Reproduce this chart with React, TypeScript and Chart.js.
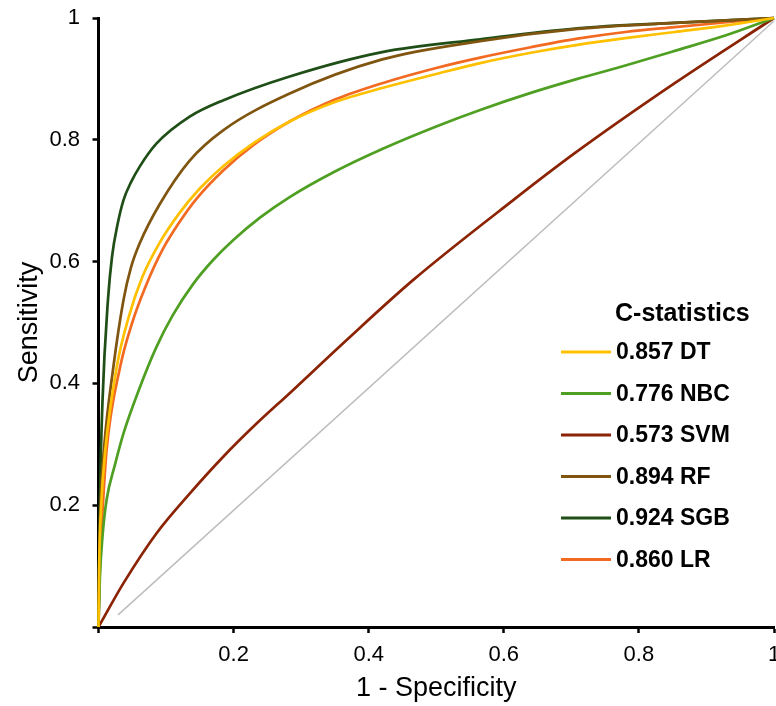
import React, { useEffect, useRef } from "react";
import { Chart, registerables } from "chart.js";

Chart.register(...registerables);

// ---- Data (1 - Specificity = FPR, Sensitivity = TPR) ----
const dtFpr = [0, 0.001, 0.004, 0.010, 0.027, 0.045, 0.065, 0.09, 0.12, 0.15, 0.185, 0.23, 0.283, 0.35, 0.42, 0.5, 0.565, 0.64, 0.709, 0.78, 0.853, 0.93, 1];
const dtTpr = [0, 0.1, 0.2, 0.29, 0.427, 0.51, 0.575, 0.63, 0.68, 0.72, 0.757, 0.795, 0.83, 0.862, 0.885, 0.908, 0.926, 0.943, 0.956, 0.967, 0.977, 0.988, 1];

const nbcFpr = [0, 0.002, 0.006, 0.012, 0.024, 0.037, 0.06, 0.085, 0.11, 0.14, 0.17, 0.2, 0.24, 0.283, 0.35, 0.42, 0.5, 0.565, 0.64, 0.709, 0.78, 0.853, 0.93, 1];
const nbcTpr = [0, 0.08, 0.15, 0.209, 0.265, 0.318, 0.39, 0.458, 0.512, 0.563, 0.603, 0.636, 0.673, 0.706, 0.748, 0.785, 0.822, 0.849, 0.877, 0.9, 0.922, 0.946, 0.972, 1];

const svmFpr = [0, 0.037, 0.086, 0.135, 0.185, 0.234, 0.283, 0.367, 0.466, 0.614, 0.705, 0.853, 1];
const svmTpr = [0, 0.072, 0.154, 0.219, 0.28, 0.334, 0.384, 0.471, 0.57, 0.701, 0.778, 0.893, 1];

const rfFpr = [0, 0.001, 0.003, 0.008, 0.022, 0.037, 0.048, 0.061, 0.091, 0.135, 0.185, 0.283, 0.42, 0.565, 0.709, 0.853, 1];
const rfTpr = [0, 0.1, 0.2, 0.291, 0.427, 0.537, 0.59, 0.63, 0.695, 0.766, 0.816, 0.876, 0.932, 0.962, 0.982, 0.992, 1];

const sgbFpr = [0, 0.001, 0.002, 0.006, 0.014, 0.02, 0.028, 0.037, 0.048, 0.061, 0.086, 0.135, 0.185, 0.283, 0.42, 0.565, 0.709, 0.853, 1];
const sgbTpr = [0, 0.1, 0.2, 0.373, 0.537, 0.608, 0.66, 0.701, 0.73, 0.756, 0.794, 0.838, 0.865, 0.904, 0.944, 0.965, 0.983, 0.992, 1];

const lrFpr = [0, 0.002, 0.007, 0.012, 0.032, 0.05, 0.07, 0.095, 0.12, 0.145, 0.185, 0.23, 0.283, 0.35, 0.42, 0.5, 0.565, 0.64, 0.709, 0.78, 0.853, 0.93, 1];
const lrTpr = [0, 0.1, 0.209, 0.291, 0.427, 0.5, 0.56, 0.62, 0.665, 0.703, 0.75, 0.792, 0.83, 0.866, 0.893, 0.918, 0.935, 0.952, 0.966, 0.977, 0.985, 0.993, 1];

const refFpr = [0.029, 1];
const refTpr = [0.02, 0.995];

const seriesLabels = ["0.857 DT", "0.776 NBC", "0.573 SVM", "0.894 RF", "0.924 SGB", "0.860 LR"];
const seriesColors = ["#FFC000", "#4E9F22", "#8B2305", "#7F5510", "#1F4E16", "#F26A21"];
const legendTitle = "C-statistics";
const xTitle = "1 - Specificity";
const yTitle = "Sensitivity";

const FONT = "'Liberation Sans', Arial, Helvetica, sans-serif";

const toPoints = (xs: number[], ys: number[]) => xs.map((x, i) => ({ x, y: ys[i] }));

const legendPlugin = {
  id: "cstatLegend",
  afterDraw(chart: any) {
    const ctx = chart.ctx;
    ctx.save();
    ctx.fillStyle = "#000";
    ctx.textBaseline = "middle";
    ctx.textAlign = "left";
    ctx.font = `bold 25px ${FONT}`;
    ctx.fillText(legendTitle, 615, 314);
    ctx.font = `bold 23px ${FONT}`;
    seriesLabels.forEach((label, i) => {
      const y = 352 + i * 41.5;
      ctx.strokeStyle = seriesColors[i];
      ctx.lineWidth = 3;
      ctx.beginPath();
      ctx.moveTo(561, y);
      ctx.lineTo(611, y);
      ctx.stroke();
      ctx.fillStyle = "#000";
      ctx.fillText(label, 616, y + 1);
    });
    ctx.restore();
  },
};

export default function App() {
  const ref = useRef<HTMLCanvasElement | null>(null);

  useEffect(() => {
    if (!ref.current) return;
    const curves = [
      [dtFpr, dtTpr],
      [nbcFpr, nbcTpr],
      [svmFpr, svmTpr],
      [rfFpr, rfTpr],
      [sgbFpr, sgbTpr],
      [lrFpr, lrTpr],
    ];
    const datasets: any[] = [
      {
        label: "reference",
        data: toPoints(refFpr, refTpr),
        borderColor: "#BDBDBD",
        borderWidth: 1.5,
        pointRadius: 0,
        fill: false,
        clip: false,
      },
      ...curves.map(([xs, ys], i) => ({
        label: seriesLabels[i],
        data: toPoints(xs, ys),
        borderColor: seriesColors[i],
        borderWidth: 2.7,
        pointRadius: 0,
        fill: false,
        cubicInterpolationMode: "monotone",
        clip: false,
      })),
    ];

    const tickFmt = (v: any) => {
      const n = Number(v);
      if (Math.abs(n) < 1e-9) return "";
      return String(Math.round(n * 10) / 10);
    };

    const chart = new Chart(ref.current, {
      type: "line",
      data: { datasets },
      options: {
        animation: false,
        responsive: false,
        events: [],
        layout: { padding: { left: 0, right: 2, top: 18, bottom: 0 } },
        plugins: { legend: { display: false }, tooltip: { enabled: false } },
        scales: {
          x: {
            type: "linear",
            min: 0,
            max: 1,
            afterFit: (s: any) => {
              s.height = 79;
              s.paddingLeft = 0;
              s.paddingRight = 0;
            },
            ticks: {
              stepSize: 0.2,
              color: "#000",
              padding: 9,
              maxRotation: 0,
              autoSkip: false,
              font: { family: FONT, size: 22 },
              callback: tickFmt,
            },
            grid: {
              display: true,
              drawOnChartArea: false,
              drawTicks: true,
              tickLength: 6,
              tickColor: "#000",
              tickWidth: 2.5,
            },
            border: { display: true, color: "#000", width: 3 },
            title: {
              display: true,
              text: xTitle,
              color: "#000",
              font: { family: FONT, size: 27, lineHeight: 1 },
              padding: { top: 0, bottom: 3.5 },
            },
          },
          y: {
            type: "linear",
            min: 0,
            max: 1,
            afterFit: (s: any) => {
              s.width = 98.5;
              s.paddingTop = 0;
              s.paddingBottom = 0;
            },
            ticks: {
              stepSize: 0.2,
              color: "#000",
              padding: 12.5,
              autoSkip: false,
              font: { family: FONT, size: 22 },
              callback: tickFmt,
            },
            grid: {
              display: true,
              drawOnChartArea: false,
              drawTicks: true,
              tickLength: 6,
              tickColor: "#000",
              tickWidth: 2.5,
            },
            border: { display: true, color: "#000", width: 3 },
            title: {
              display: true,
              text: yTitle,
              color: "#000",
              font: { family: FONT, size: 27, lineHeight: 1 },
              padding: { top: 16.5, bottom: 0 },
            },
          },
        },
      },
      plugins: [legendPlugin],
    } as any);

    return () => chart.destroy();
  }, []);

  return (
    <div style={{ position: "fixed", left: 0, top: 0, width: 776, height: 706, overflow: "hidden", background: "#fff" }}>
      <canvas ref={ref} width={776} height={706} style={{ display: "block", width: 776, height: 706 }} />
    </div>
  );
}
